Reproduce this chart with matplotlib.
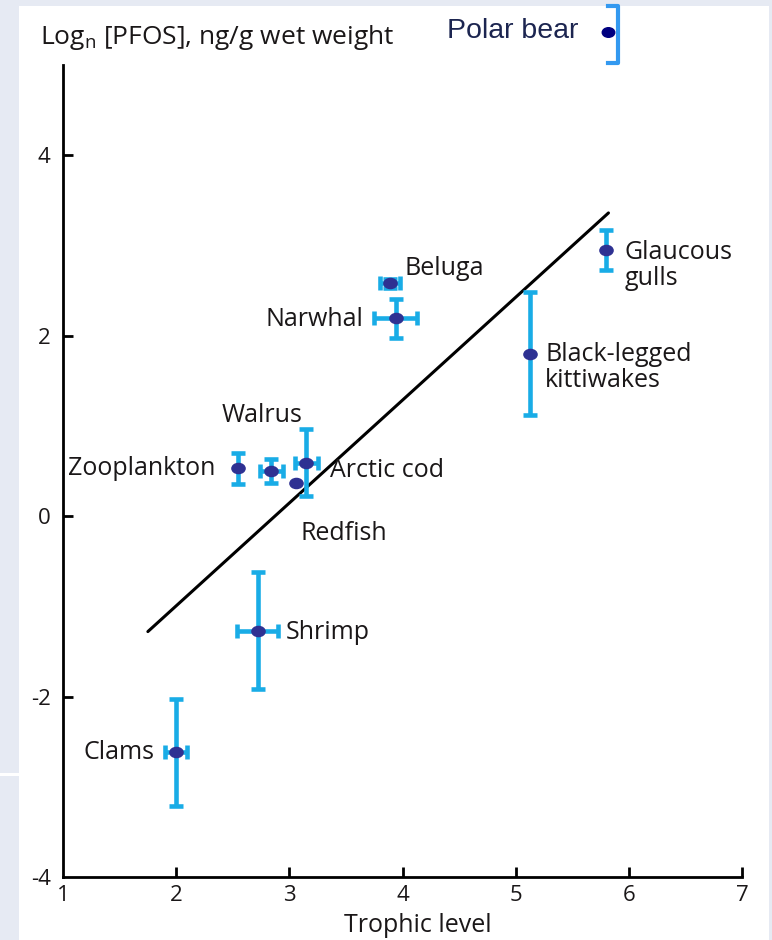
import matplotlib
matplotlib.use("Agg")
import matplotlib.pyplot as plt
from matplotlib.markers import MarkerStyle
from matplotlib.patches import Rectangle
from matplotlib.path import Path
from matplotlib.transforms import Affine2D

plt.rcParams["font.family"] = ["Open Sans", "DejaVu Sans"]
plt.rcParams["mathtext.default"] = "regular"

# species with trophic level and log PFOS
species = ["Clams", "Shrimp", "Zooplankton", "Walrus", "Arctic cod", "Redfish",
           "Beluga", "Narwhal", "Black-legged\nkittiwakes", "Glaucous\ngulls"]
trophic = [2.00, 2.72, 2.55, 2.84, 3.15, 3.06, 3.89, 3.94, 5.13, 5.80]
log_pfos = [-2.62, -1.27, 0.53, 0.50, 0.59, 0.37, 2.58, 2.19, 1.80, 2.95]
y_err = [0.59, 0.65, 0.17, 0.13, 0.37, 0.0, 0.05, 0.22, 0.68, 0.22]
x_err = [0.10, 0.18, 0.0, 0.10, 0.10, 0.0, 0.09, 0.19, 0.0, 0.0]

# polar bear, added on top of the original figure
bear_x = 5.82
bear_y = 5.36
bear_lo = 5.02
bear_hi = 5.65

# regression line end points
fit_x = [1.75, 5.82]
fit_y = [-1.28, 3.36]

# label anchors (data coords) and alignment
label_pos = {
    "Clams": (1.81, -2.62, "right"),
    "Shrimp": (2.97, -1.29, "left"),
    "Zooplankton": (2.35, 0.53, "right"),
    "Walrus": (2.76, 1.11, "center"),
    "Arctic cod": (3.36, 0.50, "left"),
    "Redfish": (3.10, -0.19, "left"),
    "Beluga": (4.02, 2.74, "left"),
    "Narwhal": (3.65, 2.18, "right"),
    "Black-legged\nkittiwakes": (5.26, 1.65, "left"),
    "Glaucous\ngulls": (5.96, 2.78, "left"),
}

ERR_COLOR = "#19ace6"
DOT_COLOR = "#2e3192"
TEXT_COLOR = "#1a1718"
BG_COLOR = "#e6eaf3"
LABEL_SIZE = 18

fig = plt.figure(figsize=(7.72, 9.40), dpi=100)
fig.patch.set_facecolor("white")

# slide background strips
for rect in [(0, 0, 19 / 772, 164 / 940), (0, 167 / 940, 19 / 772, 1),
             (0, 934 / 940, 1, 6 / 940), (769 / 772, 0, 3 / 772, 1)]:
    fig.patches.append(Rectangle(rect[:2], rect[2], rect[3], transform=fig.transFigure,
                                 facecolor=BG_COLOR, edgecolor="none", zorder=-10))

ax = fig.add_axes([63 / 772, 63 / 940, 679 / 772, 877 / 940])
ax.set_facecolor("none")
ax.set_xlim(1, 7)
ax.set_ylim(-4, 5.72)

ellipse = MarkerStyle(Path.unit_circle().transformed(Affine2D().scale(1.3, 1.0)))

for i, name in enumerate(species):
    ax.errorbar(trophic[i], log_pfos[i],
                yerr=y_err[i] if y_err[i] else None,
                xerr=x_err[i] if x_err[i] else None,
                fmt="none", ecolor=ERR_COLOR, elinewidth=3.3, capsize=5, capthick=3.3,
                zorder=2)
ax.plot(trophic, log_pfos, linestyle="none", marker=ellipse, markersize=9.5,
        color=DOT_COLOR, zorder=3)

ax.plot(fit_x, fit_y, color="black", linewidth=2.2, solid_capstyle="round", zorder=1)

for name in species:
    lx, ly, ha = label_pos[name]
    ax.text(lx, ly, name, ha=ha, va="center", fontsize=LABEL_SIZE, color=TEXT_COLOR,
            linespacing=1.05)

# polar bear point with its bracket
ax.plot([bear_x], [bear_y], linestyle="none", marker=ellipse, markersize=9,
        color="#000080", clip_on=False, zorder=3)
d = 0.08
ax.plot([bear_x, bear_x + d, bear_x + d, bear_x], [bear_hi, bear_hi, bear_lo, bear_lo],
        color="#3399f0", linewidth=3, clip_on=False, zorder=4)
ax.text(5.55, 5.38, "Polar bear", ha="right", va="center", fontsize=20.5,
        family=["Liberation Sans", "DejaVu Sans"], color="#1c2550")

for side in ["top", "right"]:
    ax.spines[side].set_visible(False)
ax.spines["left"].set_bounds(-4, 5)
ax.spines["bottom"].set_bounds(1, 7)
for side in ["left", "bottom"]:
    ax.spines[side].set_linewidth(2)

ax.set_xticks([1, 2, 3, 4, 5, 6, 7])
ax.set_yticks([-4, -2, 0, 2, 4])
ax.set_yticklabels(["-4", "-2", "0", "2", "4"])
ax.tick_params(axis="both", direction="in", length=7, width=2, labelsize=16,
               labelcolor=TEXT_COLOR)
ax.tick_params(axis="x", pad=6)
ax.tick_params(axis="y", pad=9)
ax.get_xticklines()[0].set_visible(False)
ax.get_yticklines()[0].set_visible(False)

fig.text(418 / 772, 1 - 925 / 940, "Trophic level", ha="center", va="center",
         fontsize=LABEL_SIZE, color=TEXT_COLOR)
fig.text(40 / 772, 1 - 37 / 940, "Log$_n$ [PFOS], ng/g wet weight", ha="left",
         va="center", fontsize=19, color=TEXT_COLOR)

fig.savefig("out.png", dpi=100)
